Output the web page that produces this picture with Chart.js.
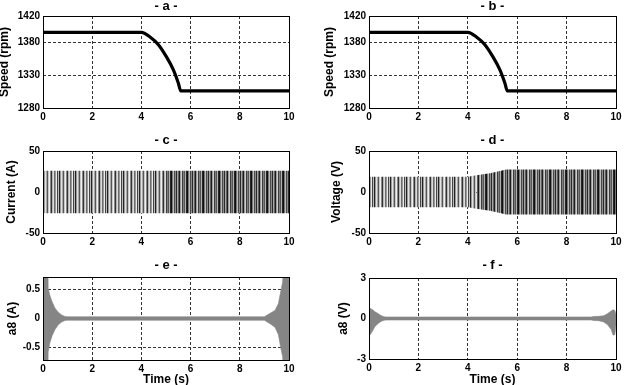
<!DOCTYPE html>
<html><head><meta charset="utf-8">
<script src="https://cdn.jsdelivr.net/npm/chart.js@4/dist/chart.umd.min.js"></script>
<style>
html,body{margin:0;padding:0;background:#fff;width:625px;height:385px;overflow:hidden;position:relative}
canvas{position:absolute;display:block}
</style></head><body>
<canvas id="pa"></canvas><canvas id="pb"></canvas>
<canvas id="pc"></canvas><canvas id="pd"></canvas>
<canvas id="pe"></canvas><canvas id="pf"></canvas>
<script>
// ---------- data ----------
const timeTicks = [0, 2, 4, 6, 8, 10];

const speedTimeA = [0, 4.0, 4.35, 4.7, 5.0, 5.3, 5.5, 5.6, 10];
const speedValA  = [1395, 1395, 1388, 1376, 1359, 1338, 1318, 1306, 1306];
const speedTimeB = [0, 4.0, 4.35, 4.7, 5.0, 5.3, 5.5, 5.6, 10];
const speedValB  = [1395, 1395, 1388, 1376, 1359, 1338, 1318, 1306, 1306];
const speedTicks = [1280, 1330, 1380, 1420];

const currentTime  = [0, 5, 10];
const currentUpper = [26, 26, 26];
const currentLower = [-26, -26, -26];
const currentTicks = [-50, 0, 50];

const voltageTime  = [0, 4.0, 4.35, 4.9, 5.3, 5.55, 10];
const voltageUpper = [18.5, 18.5, 20.5, 23, 25.5, 27.3, 27.3];
const voltageLower = [-18.5, -18.5, -20.5, -23, -25.5, -27.5, -27.5];
const voltageTicks = [-50, 0, 50];

const a8CurTime  = [0, 0.2, 0.21, 0.28, 0.37, 0.49, 0.62, 0.76, 0.89, 1.0, 9.0, 9.23, 9.43, 9.57, 9.66, 9.74, 9.78, 10];
const a8CurUpper = [0.9, 0.9, 0.52, 0.40, 0.29, 0.18, 0.11, 0.06, 0.035, 0.03, 0.03, 0.09, 0.14, 0.26, 0.46, 0.63, 0.9, 0.9];
const a8CurLower = [-0.9, -0.9, -0.58, -0.42, -0.30, -0.19, -0.11, -0.06, -0.035, -0.03, -0.03, -0.09, -0.15, -0.28, -0.50, -0.66, -0.9, -0.9];
const a8CurTicks = [-0.5, 0, 0.5];

const a8VoltTime  = [0, 0.05, 0.15, 0.24, 0.35, 0.45, 0.55, 0.65, 0.8, 9.0, 9.1, 9.3, 9.5, 9.65, 9.8, 9.88, 9.95, 10];
const a8VoltUpper = [0.7, 0.75, 0.65, 0.5, 0.38, 0.26, 0.17, 0.12, 0.11, 0.11, 0.15, 0.16, 0.2, 0.35, 0.55, 0.65, 0.6, 0.3];
const a8VoltLower = [-1.0, -1.2, -0.9, -0.6, -0.4, -0.26, -0.17, -0.12, -0.11, -0.11, -0.15, -0.16, -0.25, -0.45, -0.8, -1.23, -1.2, -0.5];
const a8VoltTicks = [-3, 0, 3];

// ---------- helpers ----------
const FONT = "'Liberation Sans', Arial, Helvetica, sans-serif";
function pts(xs, ys) { return xs.map((x, i) => ({ x: x, y: ys[i] })); }
function stripes(cols) {
  const c = document.createElement('canvas'); c.width = cols.length; c.height = 1;
  const g = c.getContext('2d');
  cols.forEach((col, i) => { g.fillStyle = col; g.fillRect(i, 0, 1, 1); });
  return g.createPattern(c, 'repeat');
}
const boxPlugin = {
  id: 'box',
  afterDatasetsDraw(chart) {
    const { ctx, chartArea: a } = chart;
    ctx.save(); ctx.strokeStyle = '#000'; ctx.lineWidth = 1;
    ctx.strokeRect(Math.round(a.left) + 0.5, Math.round(a.top) + 0.5, Math.round(a.right - a.left), Math.round(a.bottom - a.top));
    ctx.restore();
  }
};

function panel(p) {
  const cv = document.getElementById(p.id);
  cv.width = p.w; cv.height = p.h;
  cv.style.left = p.x + 'px'; cv.style.top = p.y + 'px';
  cv.style.width = p.w + 'px'; cv.style.height = p.h + 'px';
  const yW = p.area.l - p.x;
  const xH = p.y + p.h - p.area.b;
  const padR = p.x + p.w - p.area.r;
  const tickFont = { family: FONT, size: 10, weight: 'bold' };
  const plain = v => String(v);
  new Chart(cv, {
    type: 'line',
    data: { datasets: p.datasets },
    options: {
      responsive: false, animation: false, devicePixelRatio: 1,
      layout: { padding: { left: 0, right: padR, top: 0, bottom: 0 } },
      plugins: {
        legend: { display: false }, tooltip: { enabled: false },
        title: { display: true, text: p.title, fullSize: false, color: '#000',
          font: { family: FONT, size: 13, weight: 'bold', lineHeight: 1 },
          padding: { top: p.titlePad[0], bottom: p.titlePad[1] } }
      },
      elements: { point: { radius: 0 } },
      scales: {
        x: {
          type: 'linear', min: 0, max: 10,
          afterBuildTicks: ax => { ax.ticks = timeTicks.map(v => ({ value: v })); },
          afterFit: s => { s.height = xH; },
          ticks: { font: tickFont, color: '#000', padding: 3, maxRotation: 0, autoSkip: false, callback: plain },
          grid: { color: '#333', lineWidth: 1, drawTicks: false },
          border: { display: false, dash: [3, 2] },
          title: p.xTitle ? { display: true, text: p.xTitle, color: '#000',
            font: { family: FONT, size: 12, weight: 'bold', lineHeight: 1 }, padding: { top: 0, bottom: 4 } } : { display: false }
        },
        y: {
          type: 'linear', min: p.yMin, max: p.yMax,
          afterBuildTicks: ax => { ax.ticks = p.yTicks.map(v => ({ value: v })); },
          afterFit: s => { s.width = yW; },
          ticks: { font: tickFont, color: '#000', padding: 3, autoSkip: false, callback: plain },
          grid: { color: '#333', lineWidth: 1, drawTicks: false },
          border: { display: false, dash: [3, 2] },
          title: { display: true, text: p.yTitle, color: '#000',
            font: { family: FONT, size: 12, weight: 'bold', lineHeight: 1 }, padding: { top: p.yTitlePad, bottom: 0 } }
        }
      }
    },
    plugins: [boxPlugin]
  });
}

function speedSet(t, v) {
  return [{ data: pts(t, v), borderColor: '#000', borderWidth: 3.2, fill: false, cubicInterpolationMode: 'monotone' }];
}
function band(t, up, lo, i0, i1, bg, line) {
  return [
    { data: pts(t.slice(i0, i1 + 1), up.slice(i0, i1 + 1)), borderColor: line || 'rgba(0,0,0,0)', borderWidth: line ? 0.6 : 0, backgroundColor: bg, fill: '+1' },
    { data: pts(t.slice(i0, i1 + 1), lo.slice(i0, i1 + 1)), borderColor: line || 'rgba(0,0,0,0)', borderWidth: line ? 0.6 : 0, fill: false }
  ];
}

const light = stripes(['#222', '#9a9a9a', '#e2e2e2', '#a8a8a8', '#555', '#c8c8c8', '#f0f0f0', '#888',
                       '#333', '#b5b5b5', '#dcdcdc', '#6a6a6a', '#999', '#eaeaea', '#444', '#bcbcbc']);
const dark  = stripes(['#111', '#777', '#bdbdbd', '#4a4a4a', '#8c8c8c', '#2a2a2a', '#a5a5a5', '#606060',
                       '#1c1c1c', '#9a9a9a', '#cfcfcf', '#3c3c3c', '#808080', '#555', '#b0b0b0', '#262626']);

// ---------- panels ----------
panel({ id: 'pa', x: -5, y: 0, w: 305, h: 125, area: { l: 43, t: 16, r: 289, b: 108 },
  title: '- a -', titlePad: [0, 3], yTitle: 'Speed (rpm)', yTitlePad: 4,
  yMin: 1280, yMax: 1420, yTicks: speedTicks, datasets: speedSet(speedTimeA, speedValA) });
panel({ id: 'pb', x: 310, y: 0, w: 315, h: 125, area: { l: 369, t: 16, r: 616, b: 108 },
  title: '- b -', titlePad: [0, 3], yTitle: 'Speed (rpm)', yTitlePad: 14,
  yMin: 1280, yMax: 1420, yTicks: speedTicks, datasets: speedSet(speedTimeB, speedValB) });

panel({ id: 'pc', x: -5, y: 125, w: 305, h: 125, area: { l: 43, t: 151, r: 289, b: 233 },
  title: '- c -', titlePad: [8.5, 4.5], yTitle: 'Current (A)', yTitlePad: 11,
  yMin: -50, yMax: 50, yTicks: currentTicks,
  datasets: band(currentTime, currentUpper, currentLower, 0, 1, light, null)
    .concat(band(currentTime, currentUpper, currentLower, 1, 2, dark, null)) });
panel({ id: 'pd', x: 310, y: 125, w: 315, h: 125, area: { l: 369, t: 151, r: 616, b: 233 },
  title: '- d -', titlePad: [8.5, 4.5], yTitle: 'Voltage (V)', yTitlePad: 21,
  yMin: -50, yMax: 50, yTicks: voltageTicks,
  datasets: band(voltageTime, voltageUpper, voltageLower, 0, 2, light, null)
    .concat(band(voltageTime, voltageUpper, voltageLower, 2, 6, dark, null)) });

panel({ id: 'pe', x: -5, y: 250, w: 305, h: 140, area: { l: 43, t: 277, r: 289, b: 360 },
  title: '- e -', titlePad: [8.5, 5.5], yTitle: 'a8 (A)', yTitlePad: 11.5, xTitle: 'Time (s)',
  yMin: -0.72, yMax: 0.72, yTicks: a8CurTicks,
  datasets: band(a8CurTime, a8CurUpper, a8CurLower, 0, a8CurTime.length - 1, '#858585', '#858585') });
panel({ id: 'pf', x: 310, y: 250, w: 315, h: 140, area: { l: 369, t: 278, r: 616, b: 359 },
  title: '- f -', titlePad: [8.5, 6.5], yTitle: 'a8 (V)', yTitlePad: 28, xTitle: 'Time (s)',
  yMin: -3, yMax: 3, yTicks: a8VoltTicks,
  datasets: band(a8VoltTime, a8VoltUpper, a8VoltLower, 0, a8VoltTime.length - 1, '#858585', '#858585') });
</script>
</body></html>
